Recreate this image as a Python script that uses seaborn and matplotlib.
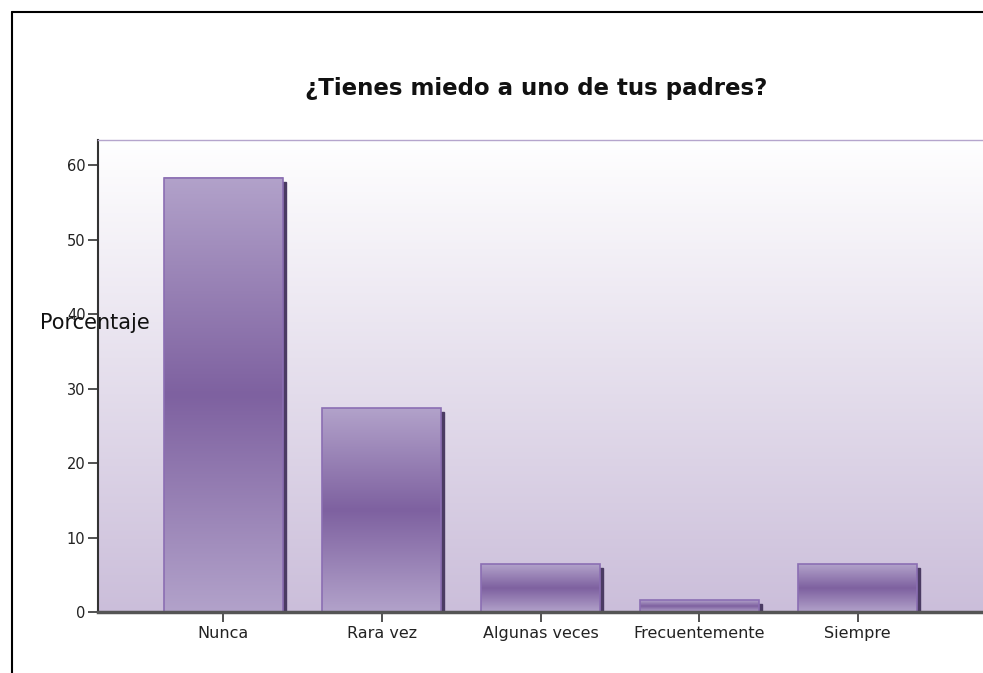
import numpy as np
import pandas as pd
import matplotlib
matplotlib.use('Agg')
import matplotlib.pyplot as plt
import matplotlib.transforms as mtransforms
import seaborn as sns
from matplotlib.colors import LinearSegmentedColormap
from matplotlib.patches import Rectangle
from matplotlib.lines import Line2D

# datos
categorias = ['Nunca', 'Rara vez', 'Algunas veces', 'Frecuentemente', 'Siempre']
porcentajes = [58.3, 27.4, 6.4, 1.6, 6.4]
yticks = [0, 10, 20, 30, 40, 50, 60]
titulo = '¿Tienes miedo a uno de tus padres?'

df = pd.DataFrame({'respuesta': categorias, 'porcentaje': porcentajes})

sns.set_theme(style='white')
plt.rcParams['font.family'] = ['DejaVu Sans']

W, H = 983, 673
fig = plt.figure(figsize=(W / 100, H / 100), dpi=100)
ax = fig.add_axes([98 / W, 61 / H, 885 / W, 472 / H])

sns.barplot(data=df, x='respuesta', y='porcentaje', ax=ax, width=0.75,
            color='#8064A2', edgecolor='#8B6EB3', linewidth=1.2, zorder=4)

xlim = (-0.79, 4.79)
ylim = (0, 63.4)

# fondo degradado (blanco arriba, lila abajo)
bg = LinearSegmentedColormap.from_list('bg', ['#CBBEDA', '#FFFFFF'])
ax.imshow(np.linspace(0, 1, 256).reshape(-1, 1), cmap=bg, aspect='auto',
          extent=[xlim[0], xlim[1], ylim[0], ylim[1]], origin='lower', zorder=0)

# barras con degradado y sombra
barcmap = LinearSegmentedColormap.from_list('bar', ['#B2A2CA', '#7E61A0', '#B2A2CA'])
grad = np.linspace(0, 1, 256).reshape(-1, 1)
shadow_tr = ax.transData + mtransforms.ScaledTranslation(3 / 100, -4 / 100, fig.dpi_scale_trans)
for p in ax.patches:
    x, y, w, h = p.get_x(), p.get_y(), p.get_width(), p.get_height()
    ax.add_patch(Rectangle((x, y), w, h, transform=shadow_tr, color='#4B3B63', zorder=2))
    ax.imshow(grad, cmap=barcmap, aspect='auto', extent=[x, x + w, y, y + h],
              origin='lower', zorder=3)
    p.set_facecolor('none')

ax.set_xlim(*xlim)
ax.set_ylim(*ylim)
ax.set_yticks(yticks)
ax.set_xlabel('')

ax.set_ylabel('Porcentaje', rotation=0, fontsize=15, color='#111111', ha='center', va='center')
ax.yaxis.set_label_coords(-0.004, 0.612)

ax.tick_params(axis='y', left=True, length=7, width=1.2, color='#333333',
               labelsize=10.5, labelcolor='#222222', pad=2)
ax.tick_params(axis='x', bottom=True, length=7, width=1.2, color='#333333',
               labelsize=11.5, labelcolor='#222222', pad=3)

ax.spines['left'].set_color('#333333')
ax.spines['left'].set_linewidth(1.5)
ax.spines['bottom'].set_color('#555555')
ax.spines['bottom'].set_linewidth(2.5)
ax.spines['top'].set_color('#B5A5CC')
ax.spines['top'].set_linewidth(1)
ax.spines['right'].set_visible(False)
for s in ax.spines.values():
    s.set_zorder(5)

fig.text(536 / W, 1 - 88 / H, titulo, ha='center', va='center',
         fontsize=16.5, fontweight='bold', color='#111111')

# marco exterior
fig.add_artist(Line2D([12 / W, 12 / W], [0, 1 - 12 / H], transform=fig.transFigure,
                      color='black', lw=1.5))
fig.add_artist(Line2D([12 / W, 1], [1 - 12 / H, 1 - 12 / H], transform=fig.transFigure,
                      color='black', lw=1.5))

fig.savefig('out.png', dpi=100)
